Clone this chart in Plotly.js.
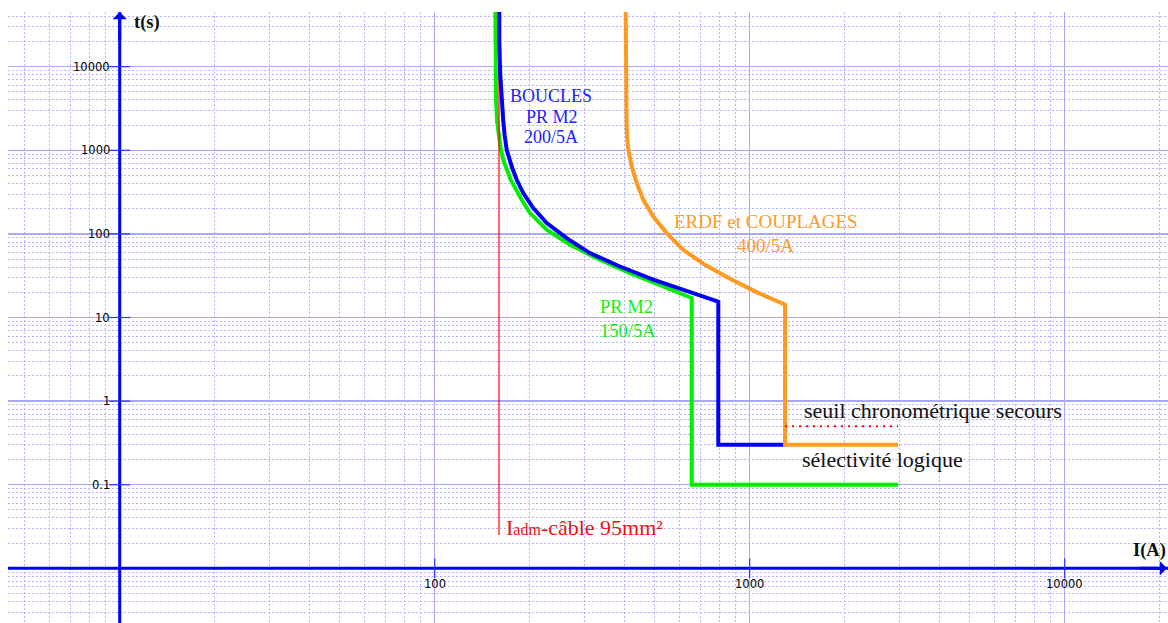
<!DOCTYPE html>
<html><head><meta charset="utf-8">
<script src="https://cdn.plot.ly/plotly-3.0.1.min.js"></script>
<style>html,body{margin:0;padding:0;background:#fff}</style>
</head><body><div id="chart" style="width:1168px;height:623px"></div>
<script>
// ---- data (I in A, t in s) ----
const blueI  = [160.3, 160.3, 161.5, 163.0, 165.0, 166.8, 169.3, 175.6, 182.1, 191.1, 205.6, 226.8, 262.4, 311, 387.5, 494, 631, 795, 795, 1300];
const blueT  = [50000, 20000, 8000, 4000, 2300, 1500, 1014, 640, 444, 307.6, 203.6, 134.6, 89, 58.9, 40.7, 28.3, 20.5, 15.5, 0.3, 0.3];
const greenI = [155.8, 155.9, 156.6, 157.8, 159.6, 162.0, 165.1, 169.3, 174.3, 188.9, 200.8, 226.8, 268.9, 326.6, 417, 531.8, 654.6, 654.6, 2960];
const greenT = [50000, 10000, 4000, 2200, 1500, 1050, 769, 585, 444, 255.8, 177.4, 112, 74.1, 51.3, 34, 23.5, 17.1, 0.1, 0.1];
const orangeI = [404, 404, 406.5, 408.7, 411.7, 422.1, 437.8, 459.4, 494.3, 545.2, 615.2, 721.3, 866, 1055, 1295, 1295, 2960];
const orangeT = [50000, 3000, 2000, 1334, 1014, 640, 405, 256, 161.5, 102.2, 64.5, 42.7, 29.0, 20.0, 14.2, 0.3, 0.3];
const cableI = [160, 160];
const cableT = [0.025, 10000];
const secoursI = [1295, 2960];
const secoursT = [0.5, 0.5];

const xTickVals = [100, 1000, 10000];
const xTickText = ['100', '1000', '10000'];
const yTickVals = [0.1, 1, 10, 100, 1000, 10000];
const yTickText = ['0.1', '1', '10', '100', '1000', '10000'];

const AXIS_I = 10;    // vertical axis sits at I = 10 A
const AXIS_T = 0.01;  // horizontal axis sits at t = 0.01 s

// ---- layout helpers ----
const W = 1168, H = 623, ML = 8, MT = 12;
const PW = W - ML, PH = H - MT;
const px = x => (x - ML) / PW;
const py = y => (H - y) / PH;

function minorVals(lo, hi) {
  const v = [];
  for (let e = lo; e <= hi; e++) for (let k = 2; k <= 9; k++) v.push(k * Math.pow(10, e));
  return v;
}

const BLUE = '#0000ff';
const traces = [
  {x: [1, 1e5], y: [AXIS_T, AXIS_T], mode: 'lines', line: {color: BLUE, width: 3}, hoverinfo: 'skip'},
  {x: [AXIS_I, AXIS_I], y: [1e-4, 1e6], mode: 'lines', line: {color: BLUE, width: 3}, hoverinfo: 'skip'},
  {x: yTickVals.map(() => AXIS_I), y: yTickVals, mode: 'markers', cliponaxis: false,
   marker: {symbol: 'line-ew', size: 15, color: '#3030ff', line: {color: '#3030ff', width: 1.2}}, hoverinfo: 'skip'},
  {x: xTickVals, y: xTickVals.map(() => AXIS_T), mode: 'markers', cliponaxis: false,
   marker: {symbol: 'line-ns', size: 14, color: '#3030ff', line: {color: '#3030ff', width: 1.2}}, hoverinfo: 'skip'},
  {x: greenI, y: greenT, mode: 'lines', line: {color: '#00ee00', width: 4}, hoverinfo: 'skip'},
  {x: cableI, y: cableT, mode: 'lines', line: {color: '#ff0000', width: 1.2}, hoverinfo: 'skip'},
  {x: blueI, y: blueT, mode: 'lines', line: {color: BLUE, width: 4}, hoverinfo: 'skip'},
  {x: orangeI, y: orangeT, mode: 'lines', line: {color: '#ff9a1f', width: 4}, hoverinfo: 'skip'},
  {x: secoursI, y: secoursT, mode: 'lines', line: {color: '#ff0000', width: 2, dash: '2px,5px'}, hoverinfo: 'skip'}
];

const SERIF = "'Liberation Serif', 'Times New Roman', serif";
const SANS = "'DejaVu Sans', Verdana, sans-serif";
const ann = [];
// tick labels
yTickVals.forEach((v, i) => ann.push({xref: 'x', yref: 'y', x: Math.log10(AXIS_I), y: Math.log10(v),
  text: yTickText[i], showarrow: false, xanchor: 'right', yanchor: 'middle', xshift: -8,
  font: {family: SANS, size: 11.5, color: '#000'}}));
xTickVals.forEach((v, i) => ann.push({xref: 'x', yref: 'y', x: Math.log10(v), y: Math.log10(AXIS_T),
  text: xTickText[i], showarrow: false, xanchor: 'center', yanchor: 'top', yshift: -7,
  font: {family: SANS, size: 11.5, color: '#000'}}));
// axis arrows
ann.push({xref: 'x', yref: 'paper', x: Math.log10(AXIS_I), y: 1, ax: 0, ay: 30, text: '', showarrow: true,
  arrowhead: 1, arrowsize: 0.8, arrowwidth: 3, arrowcolor: BLUE});
ann.push({xref: 'paper', yref: 'y', x: 1, y: Math.log10(AXIS_T), ax: -30, ay: 0, text: '', showarrow: true,
  arrowhead: 1, arrowsize: 0.8, arrowwidth: 3, arrowcolor: BLUE});

function label(text, x, y, size, color, anchor, bold) {
  ann.push({xref: 'paper', yref: 'paper', x: px(x), y: py(y), text: bold ? '<b>' + text + '</b>' : text,
    showarrow: false, xanchor: anchor, yanchor: 'middle',
    font: {family: SERIF, size: size, color: color}});
}
label('t(s)', 147, 23, 18.5, '#111', 'center', true);
label('I(A)', 1149, 550.6, 18.5, '#111', 'center', true);
label('BOUCLES', 551, 95.6, 18, '#2222ff', 'center');
label('PR M2', 551.5, 117.2, 18, '#2222ff', 'center');
label('200/5A', 551, 137.2, 18, '#2222ff', 'center');
label('ERDF et COUPLAGES', 766, 221.9, 19, '#ff9a2a', 'center');
label('400/5A', 765.5, 245.3, 19, '#ff9a2a', 'center');
label('PR M2', 626.5, 306.8, 18.5, '#11ee11', 'center');
label('150/5A', 627.5, 330.8, 18.5, '#11ee11', 'center');
label('seuil chronométrique secours', 801.5, 410.3, 22, '#111', 'left');
label('sélectivité logique', 800, 459.6, 22, '#111', 'left');
label('I<span style="font-size:16px">adm</span>-câble 95mm²', 503.5, 527.6, 22, '#ee1111', 'left');

const axisCommon = {
  type: 'log', tickmode: 'array', showticklabels: false, ticks: '', showline: false, zeroline: false,
  gridcolor: '#a8a8f6', gridwidth: 1.3, fixedrange: true
};
const minorCommon = {tickmode: 'array', showgrid: true, gridcolor: '#b4b4ff', gridwidth: 1, griddash: '2px,2px', ticks: ''};
const layout = {
  width: W, height: H, margin: {l: ML, r: 0, t: MT, b: 0, pad: 0},
  paper_bgcolor: '#ffffff', plot_bgcolor: '#ffffff', showlegend: false,
  xaxis: Object.assign({}, axisCommon, {range: [0.6454, 4.328], tickvals: [1, 10, 100, 1000, 10000],
    minor: Object.assign({tickvals: minorVals(0, 4)}, minorCommon)}),
  yaxis: Object.assign({}, axisCommon, {range: [-2.654, 4.654], tickvals: [0.001, 0.01, 0.1, 1, 10, 100, 1000, 10000],
    minor: Object.assign({tickvals: minorVals(-3, 4)}, minorCommon)}),
  annotations: ann
};
Plotly.newPlot('chart', traces, layout, {displayModeBar: false, staticPlot: true});
</script>
</body></html>
